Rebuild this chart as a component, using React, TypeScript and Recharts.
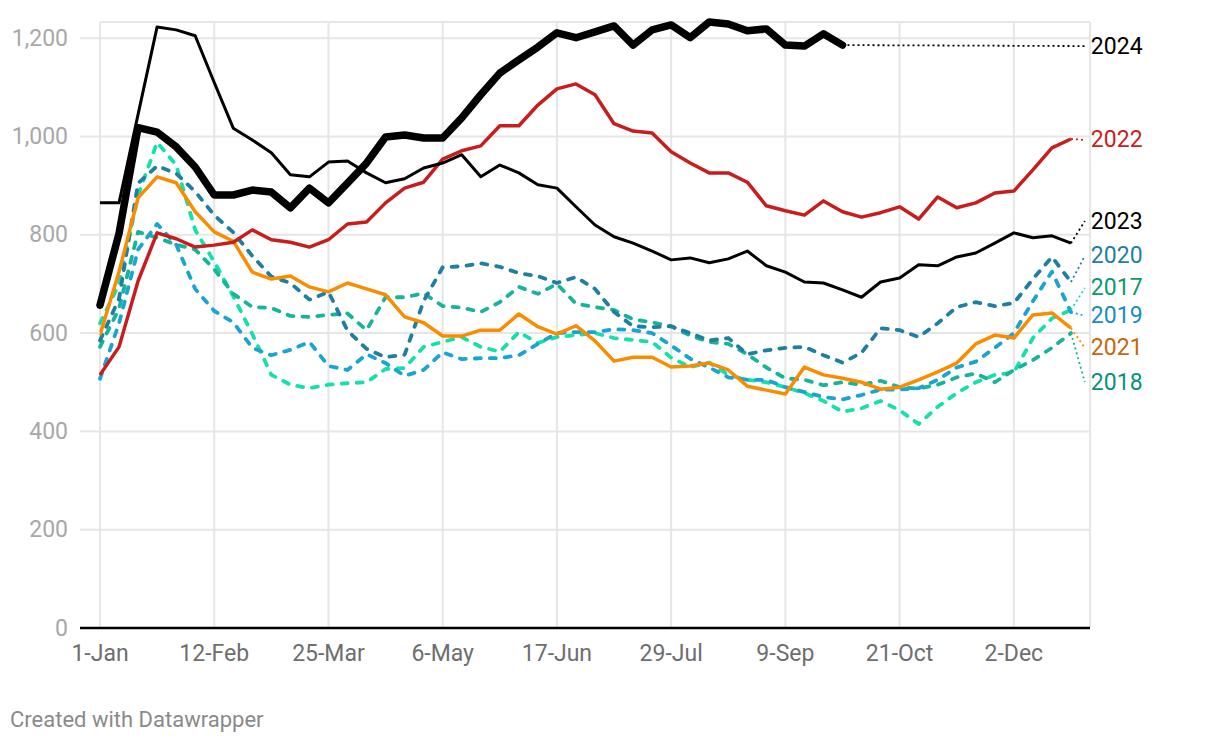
import React from 'react';
import { LineChart, Line, XAxis, YAxis, CartesianGrid, ReferenceLine } from 'recharts';

const weeks: number[] = Array.from({ length: 52 }, (_, i) => i);
const xTickValues = [0, 6, 12, 18, 24, 30, 36, 42, 48];
const xTickLabels = ['1-Jan', '12-Feb', '25-Mar', '6-May', '17-Jun', '29-Jul', '9-Sep', '21-Oct', '2-Dec'];
const yTicks = [0, 200, 400, 600, 800, 1000, 1200];

const s2024 = [657, 803, 1018, 1009, 979, 938, 881, 881, 891, 887, 855, 895, 865, 905, 946, 999, 1003, 997, 997, 1038, 1085, 1129, 1156, 1182, 1211, 1201, 1213, 1225, 1186, 1217, 1227, 1201, 1233, 1229, 1215, 1219, 1186, 1184, 1209, 1186];
const s2023 = [865, 865, 1045, 1223, 1217, 1205, 1110, 1017, 993, 967, 922, 918, 948, 950, 926, 906, 914, 936, 946, 963, 918, 942, 926, 902, 895, 857, 820, 796, 783, 767, 749, 753, 743, 751, 767, 737, 724, 704, 702, 688, 673, 704, 712, 739, 737, 755, 763, 783, 804, 794, 798, 783];
const s2022 = [515, 572, 706, 804, 792, 775, 779, 785, 810, 790, 785, 775, 790, 822, 826, 865, 895, 907, 954, 971, 981, 1022, 1022, 1064, 1097, 1107, 1085, 1026, 1011, 1007, 969, 946, 926, 926, 907, 859, 849, 840, 869, 847, 836, 845, 857, 832, 877, 855, 865, 885, 889, 932, 977, 995];
const s2021 = [596, 725, 875, 918, 906, 847, 806, 787, 724, 710, 716, 694, 684, 702, 690, 678, 633, 621, 594, 594, 606, 606, 639, 613, 598, 615, 584, 543, 551, 551, 531, 533, 539, 525, 492, 484, 476, 531, 515, 508, 500, 486, 490, 505, 521, 539, 578, 596, 590, 637, 641, 610];
const s2020 = [585, 670, 905, 940, 925, 888, 840, 805, 757, 715, 702, 668, 684, 605, 568, 551, 556, 665, 734, 736, 742, 735, 722, 716, 702, 714, 690, 643, 614, 612, 614, 600, 585, 590, 557, 565, 570, 572, 555, 540, 560, 610, 606, 592, 620, 653, 663, 655, 661, 710, 755, 704];
const s2019 = [507, 620, 770, 822, 780, 690, 645, 622, 570, 555, 566, 582, 533, 525, 557, 539, 513, 525, 561, 547, 549, 549, 555, 578, 600, 602, 602, 608, 606, 600, 575, 548, 530, 510, 505, 505, 490, 480, 470, 465, 474, 485, 485, 488, 505, 530, 542, 570, 600, 665, 725, 643];
const s2018 = [572, 650, 806, 794, 780, 770, 730, 680, 653, 651, 635, 633, 637, 640, 606, 673, 673, 681, 655, 652, 643, 663, 694, 680, 700, 660, 653, 647, 628, 622, 614, 595, 582, 578, 557, 530, 508, 505, 494, 500, 495, 503, 490, 487, 495, 510, 518, 500, 525, 545, 570, 600];
const s2017 = [620, 700, 880, 988, 942, 810, 745, 675, 598, 515, 495, 488, 495, 498, 500, 527, 529, 572, 582, 592, 572, 562, 602, 580, 592, 596, 600, 590, 586, 582, 550, 531, 540, 515, 505, 500, 490, 478, 462, 440, 447, 462, 443, 415, 450, 478, 500, 515, 520, 590, 630, 647];

// end-of-line labels: value level at which each year's label sits
const labelWeek = 51.73;
const labelValues: Record<string, number> = { '2024': 1184, '2022': 993, '2023': 828, '2020': 757, '2017': 692, '2019': 635, '2021': 570, '2018': 500 };

const data = weeks.map((w) => ({
  week: w,
  y2017: s2017[w],
  y2018: s2018[w],
  y2019: s2019[w],
  y2020: s2020[w],
  y2021: s2021[w],
  y2022: s2022[w],
  y2023: s2023[w],
  y2024: s2024[w],
}));

const lastPoint = (arr: number[]) => ({ week: arr.length - 1, v: arr[arr.length - 1] });

const FONT = 'Roboto, "Noto Sans", sans-serif';

const makeLabelDot = (text: string, color: string) => (props: any) => {
  const { cx, cy, index } = props;
  if (index !== 1 || cx == null || cy == null) return <g key={`d-${text}-${index}`} />;
  return (
    <text
      key={`d-${text}-${index}`}
      x={cx + 6}
      y={cy}
      fill={color}
      fontSize={23}
      fontFamily={FONT}
      dominantBaseline="central"
    >
      {text}
    </text>
  );
};

const YTick = (props: any) => {
  const { x, y, payload } = props;
  const v = payload.value as number;
  return (
    <g>
      <line x1={x + 12} x2={x + 32} y1={y} y2={y} stroke={v === 0 ? '#000' : '#e6e6e6'} strokeWidth={v === 0 ? 2.5 : 2} />
      <text x={x} y={y} textAnchor="end" dominantBaseline="central" fill="#a8a8a8" fontSize={23} fontFamily={FONT}>
        {v.toLocaleString('en-US')}
      </text>
    </g>
  );
};

const series = [
  { key: 'y2017', arr: s2017, name: '2017', color: '#14e0aa', label: '#0b9a6c', width: 3.8, dash: '6 9' },
  { key: 'y2018', arr: s2018, name: '2018', color: '#17b49a', label: '#0a9079', width: 3.8, dash: '6 9' },
  { key: 'y2019', arr: s2019, name: '2019', color: '#19a4d4', label: '#1a8cbf', width: 3.8, dash: '6 9' },
  { key: 'y2020', arr: s2020, name: '2020', color: '#1f7fa1', label: '#1f7fa1', width: 3.8, dash: '6 9' },
  { key: 'y2021', arr: s2021, name: '2021', color: '#fa8c00', label: '#c4680b', width: 3.5, dash: undefined },
  { key: 'y2022', arr: s2022, name: '2022', color: '#c71e1d', label: '#c71e1d', width: 3.5, dash: undefined },
  { key: 'y2023', arr: s2023, name: '2023', color: '#000000', label: '#000000', width: 3, dash: undefined },
  { key: 'y2024', arr: s2024, name: '2024', color: '#000000', label: '#000000', width: 7.5, dash: undefined },
];

export default function App() {
  return (
    <div style={{ position: 'absolute', left: 0, top: 0, width: 1220, height: 744, background: '#fff' }}>
      <LineChart width={1220} height={744} data={data} margin={{ top: 22, right: 130, bottom: 86, left: 0 }}>
        <CartesianGrid stroke="#e6e6e6" strokeWidth={2} />
        <XAxis
          dataKey="week"
          type="number"
          domain={[0, 52]}
          ticks={xTickValues}
          tickFormatter={(v: number) => xTickLabels[xTickValues.indexOf(v)] ?? ''}
          axisLine={false}
          tickLine={false}
          tickSize={0}
          tickMargin={17}
          height={30}
          interval={0}
          tick={{ fill: '#6e6e6e', fontSize: 23, fontFamily: FONT }}
        />
        <YAxis
          type="number"
          domain={[0, 1233]}
          ticks={yTicks}
          width={100}
          axisLine={false}
          tickLine={false}
          tickSize={20}
          tickMargin={12}
          interval={0}
          tick={<YTick />}
        />
        <ReferenceLine y={0} stroke="#000" strokeWidth={2.5} />
        {series.map((s) => (
          <Line
            key={s.key}
            dataKey={s.key}
            stroke={s.color}
            strokeWidth={s.width}
            strokeDasharray={s.dash}
            strokeLinecap={s.dash || s.name === '2024' ? 'round' : 'butt'}
            strokeLinejoin="round"
            dot={false}
            activeDot={false}
            isAnimationActive={false}
            connectNulls={false}
          />
        ))}
        {series.map((s) => {
          const lp = lastPoint(s.arr);
          const conn = [lp, { week: labelWeek, v: labelValues[s.name] }];
          return (
            <Line
              key={`c-${s.key}`}
              data={conn}
              dataKey="v"
              stroke={s.name === '2024' || s.name === '2023' ? '#000' : s.color}
              strokeWidth={1.8}
              strokeDasharray="2 3"
              dot={makeLabelDot(s.name, s.label)}
              activeDot={false}
              isAnimationActive={false}
            />
          );
        })}
      </LineChart>
      <div
        style={{
          position: 'absolute',
          left: 10,
          top: 706,
          fontFamily: FONT,
          fontSize: 22,
          lineHeight: '28px',
          color: '#8a8a8a',
        }}
      >
        Created with Datawrapper
      </div>
    </div>
  );
}
